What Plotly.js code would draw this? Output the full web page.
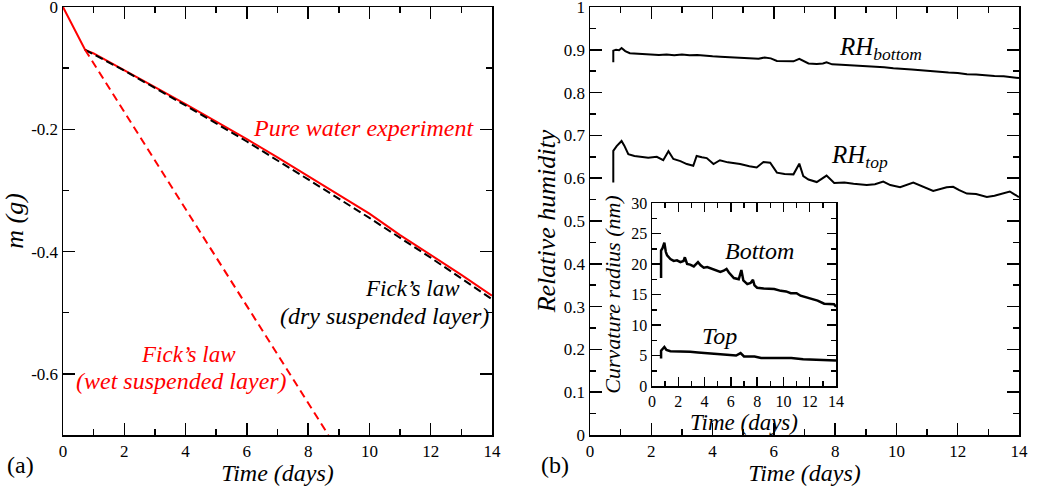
<!DOCTYPE html>
<html>
<head>
<meta charset="utf-8">
<script src="https://cdn.plot.ly/plotly-3.0.1.min.js"></script>
<style>html,body{margin:0;padding:0;background:#fff;}#chart{width:1037px;height:486px;}</style>
</head>
<body>
<div id="chart"></div>
<script>
// ---- Panel (a): mass loss ----
const expTime = [0, 0.2, 0.4, 0.6, 0.72, 1, 2, 3, 4, 5, 6, 7, 8, 9, 10, 11, 12, 13, 14];
const expMass = [0, -0.020, -0.039, -0.058, -0.070, -0.076, -0.103, -0.131, -0.159, -0.187, -0.216, -0.246, -0.277, -0.307, -0.338, -0.373, -0.405, -0.438, -0.472];
const dryTime = [0.72, 2, 4, 6, 8, 10, 12, 14];
const dryMass = [-0.070, -0.104, -0.161, -0.220, -0.282, -0.345, -0.410, -0.478];
const wetTime = [0.72, 8.66];
const wetMass = [-0.070, -0.700];
const massTickVals = [-0.6, -0.4, -0.2, 0];
const massTickText = ['-0.6', '-0.4', '-0.2', '0'];

// ---- Panel (b): relative humidity ----
const rhBotTime = [0.76, 0.76, 0.85, 0.95, 1.03, 1.15, 1.3, 1.5, 1.75, 2.0, 2.25, 2.5, 2.75, 3.0, 3.25, 3.5, 3.75, 4.0, 4.25, 4.5, 4.75, 5.0, 5.25, 5.5, 5.7, 5.9, 6.1, 6.4, 6.64, 6.83, 6.95, 7.13, 7.4, 7.6, 7.72, 7.9, 8.2, 8.5, 8.8, 9.0, 9.3, 9.6, 9.9, 10.2, 10.5, 10.8, 11.1, 11.4, 11.7, 12.0, 12.3, 12.6, 12.9, 13.2, 13.5, 13.8, 14];
const rhBot     = [0.871, 0.898, 0.900, 0.899, 0.904, 0.897, 0.892, 0.891, 0.890, 0.889, 0.888, 0.889, 0.887, 0.889, 0.887, 0.888, 0.886, 0.885, 0.884, 0.883, 0.882, 0.881, 0.880, 0.879, 0.882, 0.880, 0.874, 0.873, 0.873, 0.879, 0.874, 0.868, 0.867, 0.868, 0.871, 0.866, 0.865, 0.864, 0.863, 0.862, 0.860, 0.859, 0.857, 0.856, 0.854, 0.852, 0.850, 0.848, 0.847, 0.846, 0.843, 0.842, 0.840, 0.839, 0.838, 0.836, 0.834];
const rhTopTime = [0.76, 0.76, 0.87, 1.03, 1.12, 1.25, 1.45, 1.63, 1.9, 2.18, 2.39, 2.56, 2.72, 2.95, 3.16, 3.37, 3.48, 3.65, 3.81, 4.03, 4.24, 4.5, 4.9, 5.2, 5.44, 5.66, 5.88, 6.1, 6.35, 6.64, 6.83, 6.96, 7.13, 7.4, 7.72, 7.97, 8.3, 8.6, 9.03, 9.3, 9.57, 9.8, 10.12, 10.55, 10.8, 11.2, 11.64, 11.85, 12.05, 12.3, 12.6, 12.95, 13.2, 13.38, 13.7, 13.85, 14];
const rhTop     = [0.590, 0.664, 0.675, 0.687, 0.676, 0.656, 0.652, 0.650, 0.648, 0.650, 0.642, 0.663, 0.645, 0.640, 0.633, 0.629, 0.652, 0.649, 0.647, 0.633, 0.642, 0.637, 0.633, 0.628, 0.625, 0.638, 0.636, 0.613, 0.610, 0.609, 0.634, 0.605, 0.597, 0.591, 0.606, 0.589, 0.590, 0.587, 0.584, 0.586, 0.592, 0.584, 0.579, 0.590, 0.582, 0.570, 0.579, 0.580, 0.572, 0.564, 0.563, 0.556, 0.559, 0.562, 0.569, 0.562, 0.556];

// ---- Inset: curvature radius ----
const rBotTime = [0.69, 0.69, 0.8, 0.94, 1.05, 1.15, 1.4, 1.65, 1.9, 2.16, 2.4, 2.5, 2.67, 2.9, 3.18, 3.5, 3.7, 3.94, 4.2, 4.45, 4.8, 5.2, 5.45, 5.67, 5.85, 6.0, 6.23, 6.6, 6.8, 6.95, 7.25, 7.5, 7.68, 7.8, 8.0, 8.5, 9.0, 9.3, 9.8, 10.2, 10.56, 11.0, 11.3, 11.8, 12.2, 12.6, 13.1, 13.6, 13.85, 14];
const rBot     = [17.7, 22.2, 22.6, 23.5, 22.0, 21.4, 20.8, 20.5, 20.6, 20.3, 20.5, 21.1, 20.0, 19.9, 19.6, 20.3, 19.8, 19.4, 19.5, 19.3, 19.0, 18.7, 18.9, 19.2, 18.6, 18.2, 17.7, 17.5, 19.0, 17.3, 16.7, 16.9, 17.4, 16.5, 16.1, 16.0, 15.9, 15.9, 15.6, 15.5, 15.2, 15.2, 14.8, 14.5, 14.3, 14.0, 13.5, 13.5, 13.4, 13.0];
const rTopTime = [0.69, 0.69, 0.94, 1.1, 1.4, 2.0, 2.9, 3.5, 4.2, 5.0, 5.7, 6.4, 6.74, 7.0, 7.8, 8.3, 9.5, 10.6, 11.5, 12.3, 13.2, 14];
const rTop     = [4.5, 5.8, 6.4, 5.9, 5.7, 5.7, 5.6, 5.5, 5.4, 5.3, 5.2, 5.0, 5.4, 4.85, 4.85, 4.6, 4.6, 4.6, 4.4, 4.3, 4.25, 4.2];

const W = 1037, H = 486;
function px(x) { return x / W; }
function py(y) { return 1 - y / H; }
const SERIF = 'Liberation Serif';
const RED = '#ff0000';

const traces = [
  {x: expTime, y: expMass, mode: 'lines', line: {color: RED, width: 2}, xaxis: 'x', yaxis: 'y', name: 'Pure water experiment'},
  {x: dryTime, y: dryMass, mode: 'lines', line: {color: '#000', width: 2, dash: '8px,4px'}, xaxis: 'x', yaxis: 'y', name: 'dry'},
  {x: wetTime, y: wetMass, mode: 'lines', line: {color: RED, width: 2, dash: '8px,5px'}, xaxis: 'x', yaxis: 'y', name: 'wet'},
  {x: rhBotTime, y: rhBot, mode: 'lines', line: {color: '#000', width: 2}, xaxis: 'x2', yaxis: 'y2', name: 'RH bottom'},
  {x: rhTopTime, y: rhTop, mode: 'lines', line: {color: '#000', width: 2}, xaxis: 'x2', yaxis: 'y2', name: 'RH top'},
  {x: rBotTime, y: rBot, mode: 'lines', line: {color: '#000', width: 2.5}, xaxis: 'x3', yaxis: 'y3', name: 'Bottom'},
  {x: rTopTime, y: rTop, mode: 'lines', line: {color: '#000', width: 2.5}, xaxis: 'x3', yaxis: 'y3', name: 'Top'}
];

function axis(extra, big) {
  const base = {
    showline: true, linecolor: '#000', linewidth: 1.5, mirror: 'ticks',
    ticks: 'inside', ticklen: big ? 12 : 9, tickwidth: 1.5, tickcolor: '#000',
    showgrid: false, zeroline: false, ticklabeloverflow: 'allow',
    tickfont: {family: SERIF, size: big ? 17 : 16, color: '#000'}
  };
  for (const k in extra) base[k] = extra[k];
  return base;
}
function tfont(s) { return {family: SERIF, size: s, color: '#000'}; }
function ann(text, x, y, size, color) {
  return {text: text, x: px(x), y: py(y), xref: 'paper', yref: 'paper', showarrow: false,
          xanchor: 'center', yanchor: 'middle', font: {family: SERIF, size: size, color: color}};
}

const layout = {
  width: W, height: H,
  margin: {l: 0, r: 0, t: 0, b: 0},
  paper_bgcolor: '#fff', plot_bgcolor: 'rgba(0,0,0,0)',
  font: {family: SERIF, color: '#000'},
  showlegend: false,
  xaxis: axis({domain: [px(63), px(492)], range: [0, 14], dtick: 2, anchor: 'y',
    minor: {ticks: 'inside', ticklen: 6, dtick: 1, tickcolor: '#000', tickwidth: 1.5},
    title: {text: '<i>Time (days)</i>', font: tfont(24), standoff: 0}}, true),
  yaxis: axis({domain: [py(435), py(7)], range: [-0.7, 0], tickmode: 'array', tickvals: massTickVals, ticktext: massTickText, anchor: 'x',
    minor: {ticks: 'inside', ticklen: 6, dtick: 0.1, tickcolor: '#000', tickwidth: 1.5},
    title: {text: '<i>m (g)</i>', font: tfont(26), standoff: 3}}, true),
  xaxis2: axis({domain: [px(590), px(1019)], range: [0, 14], dtick: 2, anchor: 'y2',
    minor: {ticks: 'inside', ticklen: 6, dtick: 1, tickcolor: '#000', tickwidth: 1.5},
    title: {text: '<i>Time (days)</i>', font: tfont(24), standoff: 0}}, true),
  yaxis2: axis({domain: [py(435), py(7)], range: [0, 1], dtick: 0.1, anchor: 'x2',
    minor: {ticks: 'inside', ticklen: 6, dtick: 0.05, tickcolor: '#000', tickwidth: 1.5},
    title: {text: '<i>Relative humidity</i>', font: tfont(26), standoff: 0}}, true),
  xaxis3: axis({domain: [px(652), px(836)], range: [0, 14], dtick: 2, anchor: 'y3',
    minor: {ticks: 'inside', ticklen: 5, dtick: 1, tickcolor: '#000', tickwidth: 1.5},
    title: {text: '<i>Time (days)</i>', font: tfont(23), standoff: 0}}, false),
  yaxis3: axis({domain: [py(386), py(203)], range: [0, 30], dtick: 5, anchor: 'x3',
    minor: {ticks: 'inside', ticklen: 5, dtick: 2.5, tickcolor: '#000', tickwidth: 1.5},
    title: {text: '<i>Curvature radius (nm)</i>', font: tfont(22), standoff: 4}}, false),
  annotations: [
    ann('<i>Pure water experiment</i>', 363, 128, 24, RED),
    ann('<i>Fick’s law</i>', 412, 288, 23, '#000'),
    ann('<i>(dry suspended layer)</i>', 384, 316, 24, '#000'),
    ann('<i>Fick’s law</i>', 188, 354, 23, RED),
    ann('<i>(wet suspended layer)</i>', 181, 381, 24, RED),
    ann('(a)', 20, 465, 24, '#000'),
    ann('(b)', 555, 465, 24, '#000'),
    ann('<i>RH<sub>bottom</sub></i>', 880, 48, 25, '#000'),
    ann('<i>RH<sub>top</sub></i>', 859, 156, 25, '#000'),
    ann('<i>Bottom</i>', 759, 251, 24, '#000'),
    ann('<i>Top</i>', 719, 336, 24, '#000')
  ]
};

Plotly.newPlot('chart', traces, layout, {displayModeBar: false, staticPlot: true});
</script>
</body>
</html>
